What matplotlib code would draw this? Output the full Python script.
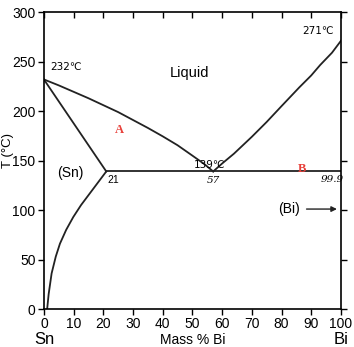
import matplotlib.pyplot as plt
import numpy as np

plt.rcParams['font.family'] = ['Liberation Sans', 'DejaVu Sans']

# liquidus, Sn side (Mass % Bi, T)
liq_sn_x = [0, 5, 10, 15, 20, 25, 30, 35, 40, 45, 50, 54, 57]
liq_sn_t = [232, 226, 219.5, 213, 206, 199, 191, 183, 174.5, 165.5, 155, 146.5, 139]
# liquidus, Bi side
liq_bi_x = [57, 60, 64, 70, 75, 80, 86, 90, 93, 97, 100]
liq_bi_t = [139, 147, 157, 174, 189, 205, 224, 236, 246.5, 259, 271]
# solidus of (Sn)
sol_x = [0, 21]
sol_t = [232, 139]
# solvus of (Sn)
solv_x = [1.1, 1.6, 2.6, 4, 5.4, 7.5, 9.9, 12.5, 15.5, 18, 21]
solv_t = [0, 15, 36, 53, 66, 80, 93, 105, 117, 127, 139]
# eutectic line
eut_x = [21, 100]
eut_t = [139, 139]

fig = plt.figure(figsize=(3.54, 3.47), dpi=100)
ax = fig.add_axes([0.124, 0.1095, 0.839, 0.8555])

lw = 1.3
for xs, ts in [(liq_sn_x, liq_sn_t), (liq_bi_x, liq_bi_t), (sol_x, sol_t),
               (solv_x, solv_t), (eut_x, eut_t)]:
    ax.plot(xs, ts, color='#222222', lw=lw, solid_joinstyle='round')

ax.set_xlim(0, 100)
ax.set_ylim(0, 300)
ax.set_xticks(np.arange(0, 101, 10))
ax.set_yticks(np.arange(0, 301, 50))
ax.tick_params(labelsize=10, length=4, width=1, pad=2, direction='out')
ax.tick_params(axis='x', top=True)
ax.tick_params(axis='y', right=True)
# top ticks point into the box
for t in ax.xaxis.get_major_ticks():
    t.tick2line.set_marker(3)
for s in ax.spines.values():
    s.set_linewidth(1.2)

fig.text(7.5 / 354, 1 - 150 / 347, 'T (°C)', fontsize=9.5, rotation=90,
         ha='center', va='center')
fig.text(193 / 354, 1 - 340 / 347, 'Mass % Bi', fontsize=10, ha='center', va='center')
fig.text(44 / 354, 1 - 339 / 347, 'Sn', fontsize=12, ha='center', va='center')
fig.text(341 / 354, 1 - 339 / 347, 'Bi', fontsize=12, ha='center', va='center')

ax.text(2, 242, '232℃', fontsize=7.5, family=['DejaVu Sans'])
ax.text(87, 278, '271℃', fontsize=7.5, family=['DejaVu Sans'])
ax.text(50.5, 143, '139℃', fontsize=7.5, family=['DejaVu Sans'])
ax.text(49, 238, 'Liquid', fontsize=10.5, ha='center', va='center')
ax.text(25.5, 181, 'A', fontsize=9, color='#e8403a', weight='bold',
        family=['Liberation Serif'], ha='center', va='center')
ax.text(87, 141, 'B', fontsize=9, color='#e8403a', weight='bold',
        family=['Liberation Serif'], ha='center', va='center')
ax.text(9, 137, '(Sn)', fontsize=10, ha='center', va='center')
ax.text(21.5, 130, '21', fontsize=7.5, ha='left', va='center')
ax.text(57, 130, '57', fontsize=7.5, ha='center', va='center',
        family=['DejaVu Serif'], style='italic')
ax.text(97, 131, '99.9', fontsize=7.5, ha='center', va='center',
        family=['DejaVu Serif'], style='italic')
ax.text(82.5, 101, '(Bi)', fontsize=10, ha='center', va='center')
ax.annotate('', xy=(99.6, 101), xytext=(87.5, 101),
            arrowprops=dict(arrowstyle='-|>', color='#222222', lw=1, mutation_scale=8))

fig.savefig('out.png', dpi=100)
